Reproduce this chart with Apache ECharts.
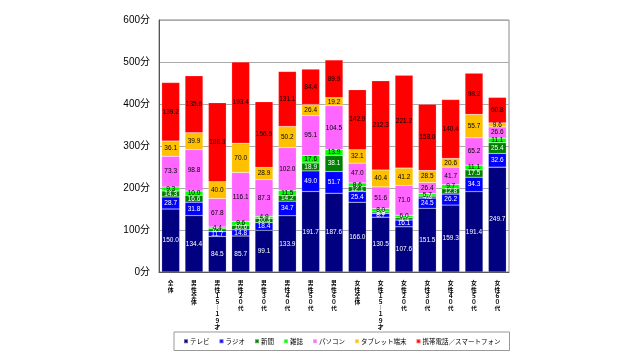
<!DOCTYPE html>
<html><head><meta charset="utf-8">
<script src="https://cdn.jsdelivr.net/npm/echarts@6/dist/echarts.min.js"></script>
<style>html,body{margin:0;padding:0;background:#fff}#c{width:640px;height:360px}</style>
</head><body><div id="c"></div>
<script>
const categories = ["全体","男性全体","男性１５－１９才","男性２０代","男性３０代","男性４０代","男性５０代","男性６０代","女性全体","女性１５－１９才","女性２０代","女性３０代","女性４０代","女性５０代","女性６０代"];
const seriesNames = ["テレビ","ラジオ","新聞","雑誌","パソコン","タブレット端末","携帯電話／スマートフォン"];
const tv        = [150.0,134.4,84.5,85.7,99.1,133.9,191.7,187.6,166.0,130.5,107.6,151.5,159.3,191.4,249.7];
const radio     = [28.7,31.8,11.7,14.8,18.4,34.7,49.0,51.7,25.4,8.7,16.1,24.5,26.2,34.3,32.6];
const newspaper = [14.3,16.6,6.5,10.6,10.3,14.2,18.9,38.1,12.1,3.8,5.5,4.8,12.8,17.5,25.4];
const magazine  = [9.3,10.0,4.4,9.6,4.9,11.5,17.6,13.9,8.6,8.0,6.0,5.7,9.7,11.1,11.1];
const pc        = [73.3,98.8,67.8,116.1,87.3,102.0,95.1,104.5,47.0,51.6,71.0,26.4,41.7,65.2,26.6];
const tablet    = [36.1,39.9,40.0,70.0,28.9,50.2,26.4,19.2,32.1,40.4,41.2,28.5,20.6,55.7,9.6];
const mobile    = [139.2,135.6,188.3,193.4,156.5,131.1,84.4,89.9,142.9,212.3,221.2,158.0,140.4,98.2,60.8];
const yTicks = [0,100,200,300,400,500,600];

const values = [tv,radio,newspaper,magazine,pc,tablet,mobile];
const colors = ["#000080","#0000ff","#008000","#00ff00","#ff66ff","#ffc000","#ff0000"];
const labelColors = ["#fff","#fff","#fff","#000","#000","#000","#000"];
const FONT = '"Noto Sans CJK JP", "Liberation Sans", sans-serif';

const chart = echarts.init(document.getElementById('c'), null, {renderer:'canvas'});
chart.setOption({
  animation:false,
  textStyle:{fontFamily:FONT},
  grid:{left:159,right:131,top:20,bottom:88,show:true,borderColor:'#888',borderWidth:1},
  legend:{
    data:seriesNames, top:332, left:174,
    itemWidth:4,itemHeight:4,itemGap:9,icon:'rect',
    borderColor:'#999',borderWidth:1,padding:[6,9,6,9],
    textStyle:{fontSize:6.5,color:'#000',fontFamily:FONT,padding:[0,0,0,-3]}
  },
  xAxis:{
    type:'category',data:categories,
    axisLine:{lineStyle:{color:'#555'}},
    axisTick:{show:false},
    axisLabel:{interval:0,fontSize:5.8,lineHeight:6.2,color:'#000',fontWeight:'bold',margin:8,verticalAlign:'top',
      formatter:v=>v.replace(/－/g,'︱').split('').join('\n')}
  },
  yAxis:{
    type:'value',min:yTicks[0],max:yTicks[yTicks.length-1],interval:100,
    axisLine:{show:true,lineStyle:{color:'#555'}},
    axisTick:{show:false},
    splitLine:{lineStyle:{color:'#aaa'}},
    axisLabel:{fontSize:10,color:'#000',margin:9,fontFamily:'"Liberation Sans", "Noto Sans CJK JP", sans-serif',formatter:v=>v+'分'}
  },
  series:seriesNames.map((n,i)=>({
    name:n,type:'bar',stack:'a',data:values[i],barCategoryGap:'23%',
    itemStyle:{color:colors[i],borderColor:'rgba(255,255,255,0.35)',borderWidth:0.5},
    label:{show:true,position:'inside',fontSize:6.5,color:labelColors[i],fontFamily:'"Liberation Sans", sans-serif',
      formatter:p=>p.value.toFixed(1)}
  }))
});
</script></body></html>
